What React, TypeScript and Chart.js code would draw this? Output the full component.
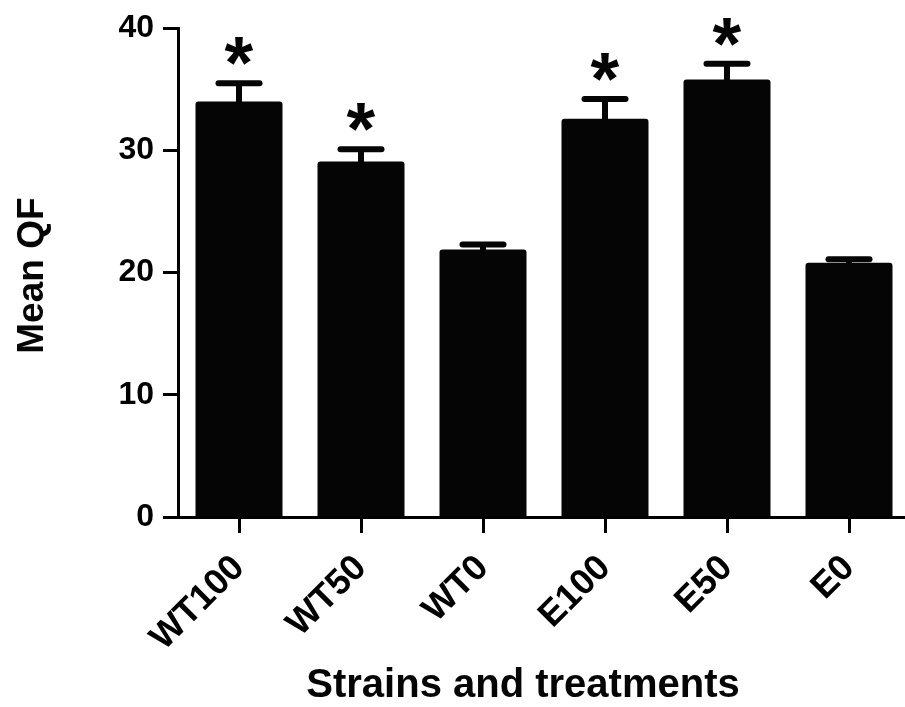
import React, { useEffect, useRef } from 'react';
import { Chart, registerables } from 'chart.js';

Chart.register(...registerables);

const categories = ['WT100', 'WT50', 'WT0', 'E100', 'E50', 'E0'];
const meanQF = [34.0, 29.1, 21.9, 32.6, 35.8, 20.8];
const errorSEM = [1.5, 1.0, 0.4, 1.6, 1.3, 0.3];
const significant = [true, true, false, true, true, false];
const yTicks = [0, 10, 20, 30, 40];
const xTitle = 'Strains and treatments';
const yTitle = 'Mean QF';

const FONT = '"Liberation Sans", Arial, Helvetica, sans-serif';
const INK = '#050505';

const errorBarPlugin = {
  id: 'errorBarsAndStars',
  afterDatasetsDraw(chart: any) {
    const ctx = chart.ctx as CanvasRenderingContext2D;
    const meta = chart.getDatasetMeta(0);
    const yScale = chart.scales.y;
    ctx.save();
    ctx.strokeStyle = INK;
    ctx.fillStyle = INK;
    meta.data.forEach((bar: any, i: number) => {
      const top = yScale.getPixelForValue(meanQF[i] + errorSEM[i]);
      ctx.lineCap = 'butt';
      ctx.lineWidth = 6;
      ctx.beginPath();
      ctx.moveTo(bar.x, bar.y + 2);
      ctx.lineTo(bar.x, top);
      ctx.stroke();
      ctx.lineCap = 'round';
      ctx.lineWidth = 6;
      ctx.beginPath();
      ctx.moveTo(bar.x - 20.5, top);
      ctx.lineTo(bar.x + 20.5, top);
      ctx.stroke();
      if (significant[i]) {
        ctx.font = `bold 100px ${FONT}`;
        const m = ctx.measureText('*');
        const h = m.actualBoundingBoxAscent + m.actualBoundingBoxDescent;
        const size = (100 * 28) / h;
        ctx.font = `bold ${size}px ${FONT}`;
        const m2 = ctx.measureText('*');
        const cy = top - 32;
        const baseY = cy + (m2.actualBoundingBoxAscent - m2.actualBoundingBoxDescent) / 2;
        const cx = bar.x - (m2.actualBoundingBoxRight - m2.actualBoundingBoxLeft) / 2;
        ctx.textAlign = 'left';
        ctx.textBaseline = 'alphabetic';
        ctx.fillText('*', cx + m2.actualBoundingBoxLeft, baseY);
      }
    });
    ctx.restore();
  },
  afterDraw(chart: any) {
    const ctx = chart.ctx as CanvasRenderingContext2D;
    const area = chart.chartArea;
    ctx.save();
    ctx.fillStyle = INK;
    // x-axis title
    ctx.font = `bold 40px ${FONT}`;
    ctx.textAlign = 'center';
    ctx.textBaseline = 'alphabetic';
    ctx.fillText(xTitle, area.left + 345, 697);
    // y-axis title
    ctx.font = `bold 37px ${FONT}`;
    ctx.translate(43, (area.top + area.bottom) / 2 + 3);
    ctx.rotate(-Math.PI / 2);
    ctx.textAlign = 'center';
    ctx.fillText(yTitle, 0, 0);
    ctx.restore();
  },
};

export default function App() {
  const ref = useRef<HTMLCanvasElement | null>(null);

  useEffect(() => {
    if (!ref.current) return;
    const yTickFont = { family: FONT, size: 32, weight: 'bold' as const };
    const xTickFont = { family: FONT, size: 36, weight: 'bold' as const };
    const chart = new Chart(ref.current, {
      type: 'bar',
      data: {
        labels: categories,
        datasets: [
          {
            label: yTitle,
            data: meanQF,
            backgroundColor: INK,
            borderWidth: 0,
            borderRadius: 3,
            borderSkipped: 'start',
            categoryPercentage: 1,
            barPercentage: 0.713,
          },
        ],
      },
      options: {
        responsive: false,
        animation: false,
        devicePixelRatio: 1,
        layout: { padding: { top: 24, right: 0, left: 0, bottom: 0 } },
        plugins: {
          legend: { display: false },
          tooltip: { enabled: false },
        },
        scales: {
          x: {
            grid: {
              display: true,
              offset: false,
              drawOnChartArea: false,
              drawTicks: true,
              tickLength: 16,
              tickWidth: 3,
              tickColor: '#000',
            },
            border: { display: true, width: 3, color: '#000' },
            ticks: {
              color: '#000',
              font: xTickFont,
              minRotation: 45,
              maxRotation: 45,
              padding: 14,
              autoSkip: false,
            },
            afterFit: (s: any) => {
              s.height = 190;
            },
          },
          y: {
            min: 0,
            max: 40,
            afterBuildTicks: (s: any) => {
              s.ticks = yTicks.map((v) => ({ value: v }));
            },
            grid: {
              display: true,
              drawOnChartArea: false,
              drawTicks: true,
              tickLength: 15,
              tickWidth: 3,
              tickColor: '#000',
            },
            border: { display: true, width: 3, color: '#000' },
            ticks: {
              color: '#000',
              font: yTickFont,
              padding: 9,
            },
            afterFit: (s: any) => {
              s.width = 178;
            },
          },
        },
      },
      plugins: [errorBarPlugin],
    });
    return () => chart.destroy();
  }, []);

  return (
    <div style={{ position: 'fixed', left: 0, top: 0, width: 910, height: 707, background: '#fff' }}>
      <canvas ref={ref} width={910} height={707} style={{ width: 910, height: 707, display: 'block' }} />
    </div>
  );
}
